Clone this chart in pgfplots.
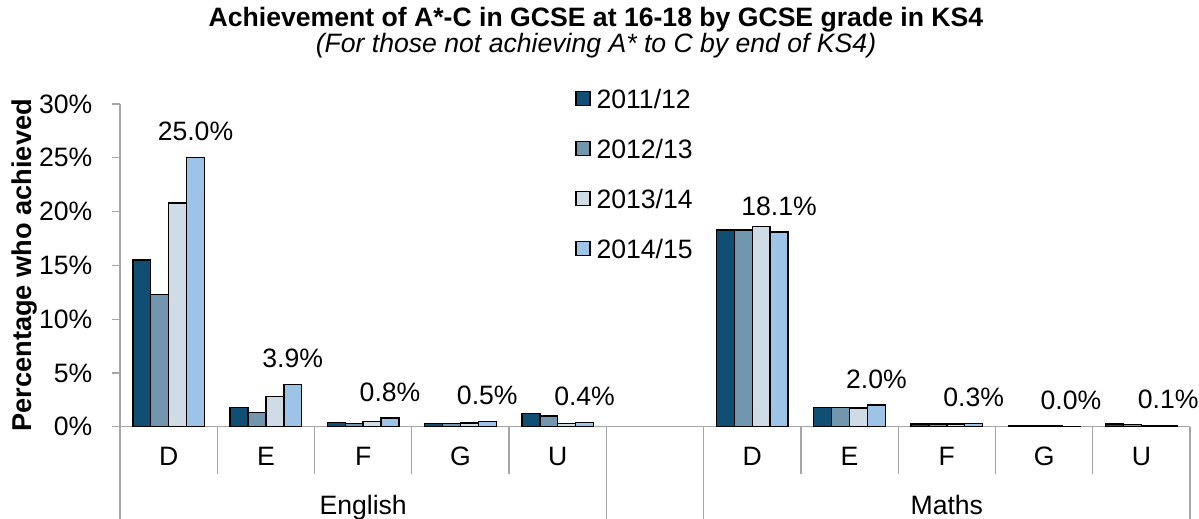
\documentclass[border=0pt]{standalone}
\usepackage{fontspec}
\setmainfont{Liberation Sans}
\usepackage{pgfplots}
\usepackage{pgfplotstable}
\pgfplotsset{compat=1.18}
\definecolor{cA}{HTML}{114E74}
\definecolor{cB}{HTML}{7396AF}
\definecolor{cC}{HTML}{D0DCE5}
\definecolor{cD}{HTML}{9DC3E6}
\definecolor{axgray}{HTML}{A6A6A6}

\pgfplotstableread{
x a b c d lab
0 15.5 12.3 20.8 25.0 25.0
1 1.8 1.3 2.8 3.9 3.9
2 0.4 0.3 0.5 0.8 0.8
3 0.3 0.3 0.35 0.5 0.5
4 1.2 1.0 0.3 0.4 0.4
6 18.3 18.3 18.6 18.1 18.1
7 1.8 1.8 1.75 2.0 2.0
8 0.25 0.25 0.25 0.3 0.3
9 0.05 0.05 0.05 0.03 0.0
10 0.25 0.2 0.1 0.1 0.1
}\data

\newcommand{\fs}{\fontsize{13.3}{16}\selectfont}
\begin{document}
\begin{tikzpicture}
\path[use as bounding box] (0pt,0pt) rectangle (599.5pt,259.5pt);
\node[font=\bfseries\fs, anchor=base, inner sep=0pt] at (298pt,246.2pt) {Achievement of A*-C in GCSE at 16-18 by GCSE grade in KS4};
\node[font=\itshape\fs, anchor=base, inner sep=0pt] at (298pt,233.2pt) {(For those not achieving A* to C by end of KS4)};
\begin{axis}[
  at={(60pt,46.15pt)}, anchor=south west, scale only axis,
  width=535pt, height=161.35pt,
  xmin=-0.5, xmax=10.5, ymin=0, ymax=30,
  ybar=0pt, bar width=8.95pt,
  axis x line*=bottom, axis y line*=left,
  axis line style={axgray, line width=0.6pt},
  tick align=outside, major tick length=3.8pt,
  ytick={0,5,...,30},
  yticklabels={0\%,5\%,10\%,15\%,20\%,25\%,30\%},
  ytick style={axgray, line width=0.6pt},
  xtick={0,1,2,3,4,6,7,8,9,10},
  xticklabels={D,E,F,G,U,D,E,F,G,U},
  xtick style={draw=none},
  extra x ticks={2,8},
  extra x tick labels={English,Maths},
  extra x tick style={xtick style={draw=none}, xticklabel style={yshift=-24.2pt}},
  tick label style={font=\fs, black},
  xticklabel style={anchor=center, text depth=0pt, yshift=-11pt},
  yticklabel style={anchor=east, xshift=-6.5pt},
  ylabel={Percentage who achieved},
  every axis y label/.style={at={(axis description cs:-0.0888,0.5)}, rotate=90, anchor=center, font=\bfseries\fontsize{13.6}{16}\selectfont},
  legend style={at={(0.4252,1.0465)}, anchor=north west, draw=none, fill=none,
    inner sep=0pt, row sep=15.5pt, column sep=3pt,
    font=\fs,
    nodes={inner sep=0pt, text height=9.5pt, text depth=0pt}},
  legend cell align=left,
  legend image code/.code={\draw[#1,/tikz/.cd,line width=0.6pt,draw=black] (0pt,-3.5pt) rectangle (7pt,3.5pt);},
  clip=false,
]
\addplot[fill=cA, draw=black, line width=0.7pt] table[x=x, y=a] {\data};
\addlegendentry{2011/12}
\addplot[fill=cB, draw=black, line width=0.7pt] table[x=x, y=b] {\data};
\addlegendentry{2012/13}
\addplot[fill=cC, draw=black, line width=0.7pt] table[x=x, y=c] {\data};
\addlegendentry{2013/14}
\addplot[fill=cD, draw=black, line width=0.7pt,
  point meta=explicit symbolic,
  nodes near coords={\pgfplotspointmeta\%},
  every node near coord/.append style={anchor=center, yshift=13pt, font=\fs, black}]
  table[x=x, y=d, meta=lab] {\data};
\addlegendentry{2014/15}
\draw[axgray, line width=0.6pt] (axis cs:-0.5,0) -- ++(0pt,-46.15pt);
\draw[axgray, line width=0.6pt] (axis cs:4.5,0) -- ++(0pt,-46.15pt);
\draw[axgray, line width=0.6pt] (axis cs:5.5,0) -- ++(0pt,-46.15pt);
\draw[axgray, line width=0.6pt] (axis cs:10.5,0) -- ++(0pt,-46.15pt);
\draw[axgray, line width=0.6pt] (axis cs:0.5,0) -- ++(0pt,-23.65pt);
\draw[axgray, line width=0.6pt] (axis cs:1.5,0) -- ++(0pt,-23.65pt);
\draw[axgray, line width=0.6pt] (axis cs:2.5,0) -- ++(0pt,-23.65pt);
\draw[axgray, line width=0.6pt] (axis cs:3.5,0) -- ++(0pt,-23.65pt);
\draw[axgray, line width=0.6pt] (axis cs:6.5,0) -- ++(0pt,-23.65pt);
\draw[axgray, line width=0.6pt] (axis cs:7.5,0) -- ++(0pt,-23.65pt);
\draw[axgray, line width=0.6pt] (axis cs:8.5,0) -- ++(0pt,-23.65pt);
\draw[axgray, line width=0.6pt] (axis cs:9.5,0) -- ++(0pt,-23.65pt);
\end{axis}
\end{tikzpicture}
\end{document}
